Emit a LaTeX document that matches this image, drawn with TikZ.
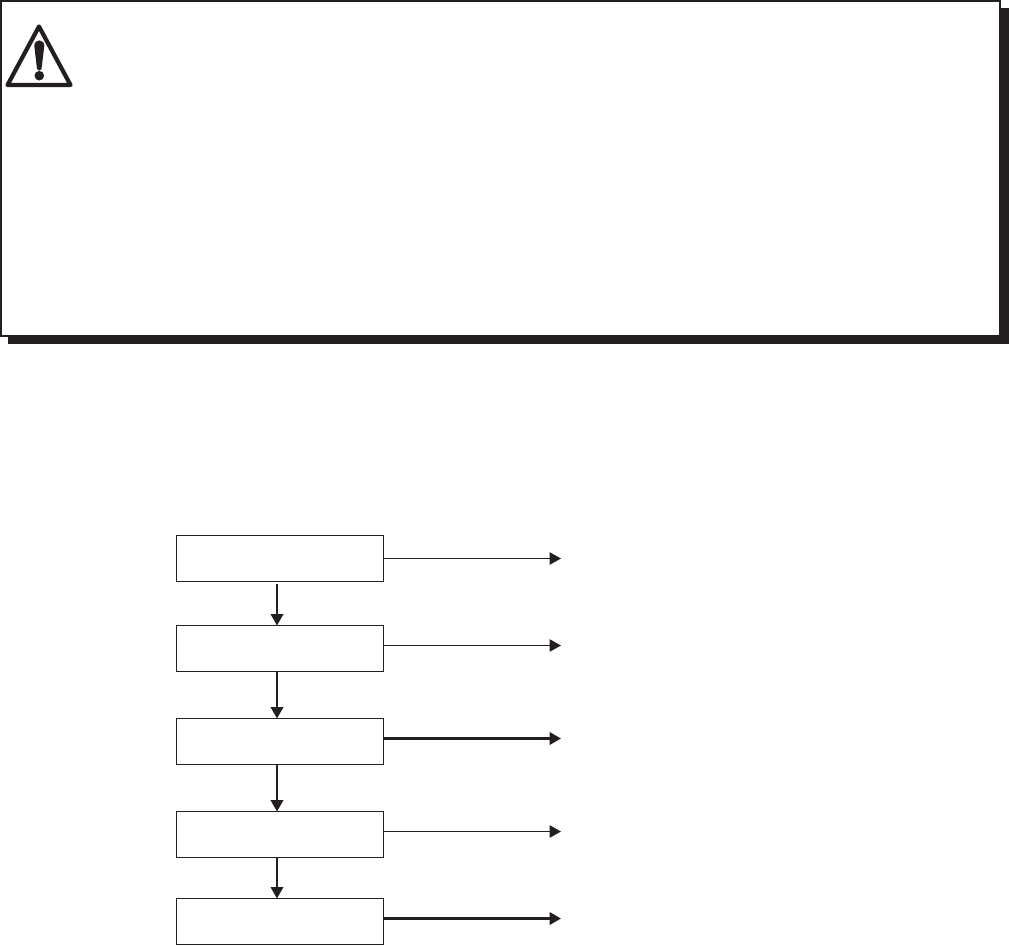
\documentclass[tikz,border=0pt]{standalone}
\usepackage{tikz}
\usetikzlibrary{arrows.meta}
\usetikzlibrary{positioning}
\definecolor{inkdark}{HTML}{231F20}

\tikzset{
    stepbox/.style={draw=inkdark, line width=1.2pt, minimum width=207pt, minimum height=46pt, outer sep=0pt, inner sep=0pt},
    flowarrow/.style={-{Triangle[length=11.5pt, width=12.5pt]}, draw=inkdark, fill=inkdark, line width=2.3pt},
    thinarrow/.style={flowarrow, line width=1.2pt},
}

\begin{document}
\begin{tikzpicture}[x=1pt, y=1pt]
    \useasboundingbox (0,0) rectangle (1009,-945);

    % warning frame
    \node (shadow) [fill=inkdark, minimum width=1001pt, minimum height=336pt, outer sep=0pt, inner sep=0pt, anchor=north west] at (8,-8) {};
    \node (frame) [draw=inkdark, fill=white, line width=2pt, minimum width=999pt, minimum height=334.5pt, outer sep=0pt, inner sep=0pt, anchor=north west] at (1,-1) {};

    % warning sign
    \draw[inkdark, line width=4.2pt, line join=round] (39,-26.5) -- (70.5,-85) -- (7.5,-85) -- cycle;
    \fill[inkdark] (34.3,-46) .. controls (34.3,-38.5) and (44.3,-38.5) .. (44.3,-46) -- (41.5,-69) .. controls (41,-71) and (37.5,-71) .. (37,-69) -- cycle;
    \fill[inkdark] (39.3,-75.7) circle (4.8);

    % flow boxes
    \node (first) [stepbox] at (280,-558.5) {};
    \node (second) [stepbox, below=44pt of first] {};
    \node (third) [stepbox, below=47pt of second] {};
    \node (fourth) [stepbox, below=47pt of third] {};
    \node (fifth) [stepbox, below=41pt of fourth] {};

    \coordinate (firstend) at ([shift={(177.5pt,0pt)}]first.east);
    \coordinate (secondend) at ([shift={(177.5pt,3pt)}]second.east);
    \coordinate (thirdend) at ([shift={(177.5pt,3pt)}]third.east);
    \coordinate (fourthend) at ([shift={(177.5pt,3pt)}]fourth.east);
    \coordinate (fifthend) at ([shift={(177.5pt,3pt)}]fifth.east);

    \draw[flowarrow, shorten <=2pt] ([xshift=-3pt]first.south) -- ([xshift=-3pt]second.north);
    \draw[flowarrow] ([xshift=-3pt]second.south) -- ([xshift=-3pt]third.north);
    \draw[flowarrow] ([xshift=-3pt]third.south) -- ([xshift=-3pt]fourth.north);
    \draw[flowarrow] ([xshift=-3pt]fourth.south) -- ([xshift=-3pt]fifth.north);

    \draw[thinarrow] (first.east) -- (firstend);
    \draw[thinarrow] ([yshift=3pt]second.east) -- (secondend);
    \draw[flowarrow] ([yshift=3pt]third.east) -- (thirdend);
    \draw[thinarrow] ([yshift=3pt]fourth.east) -- (fourthend);
    \draw[flowarrow] ([yshift=3pt]fifth.east) -- (fifthend);
\end{tikzpicture}
\end{document}
